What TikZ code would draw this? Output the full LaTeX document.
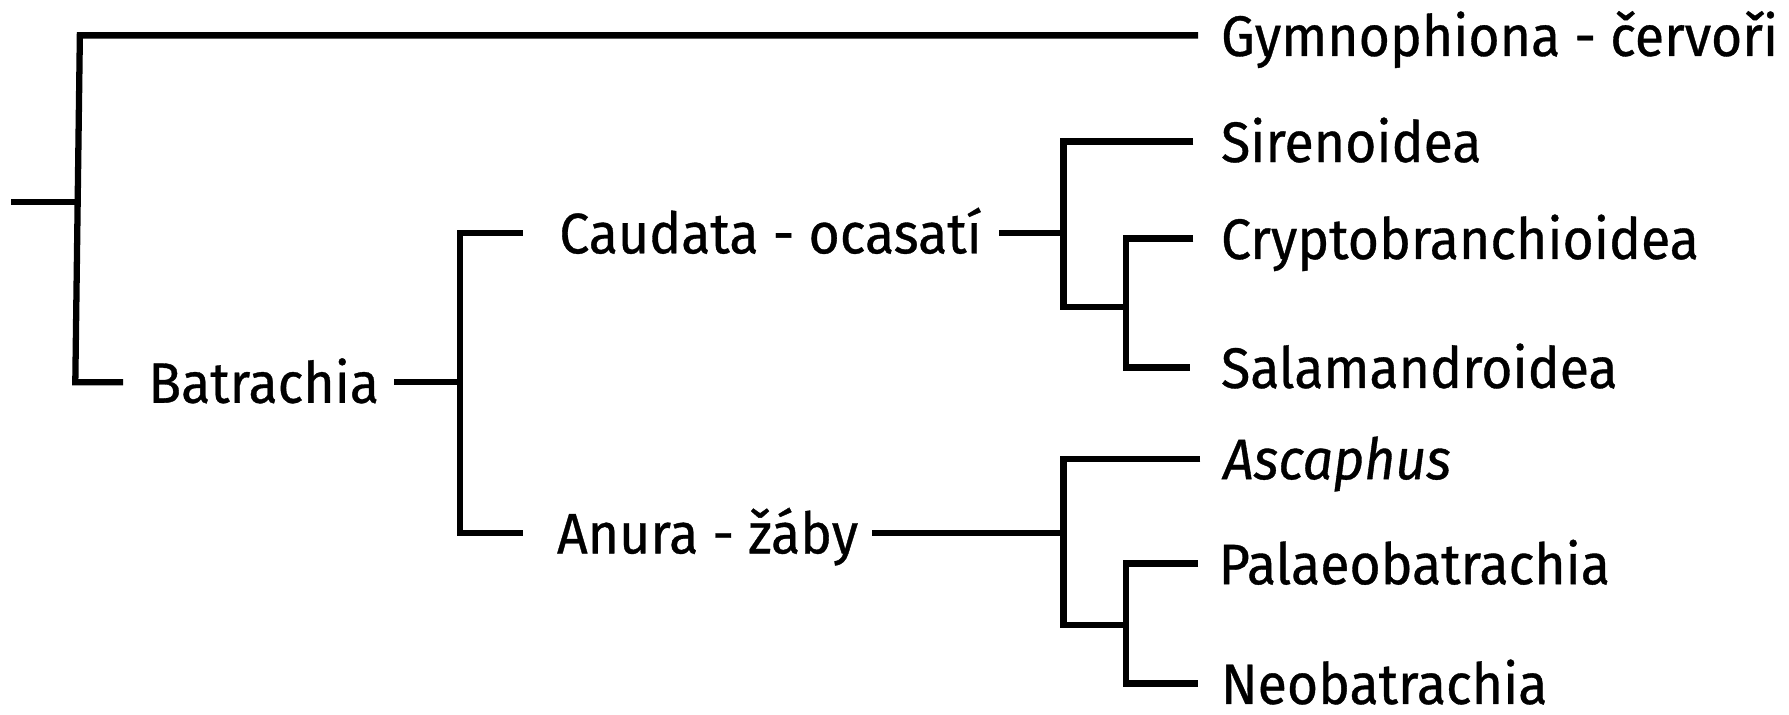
\documentclass[tikz,border=0pt]{standalone}
\usepackage{fontspec}
\newfontfamily\lblfont{Fira Sans}[FakeStretch=0.94,FakeBold=0.6]
\begin{document}
\begin{tikzpicture}[x=1pt,y=-1pt,
  br/.style={line width=5.5pt,black},
  lbl/.style={anchor=west,inner sep=0pt,font=\lblfont\fontsize{50}{50}\selectfont,text height=36pt,text depth=0pt}]
\useasboundingbox (0,0) rectangle (1568,626);
% labels
\node[lbl] (gym) at (1070,31) {Gymnophiona - červoři};
\node[lbl] (bat) at (130,335) {Batrachia};
\node[lbl] (cau) at (490,204) {Caudata - ocasatí};
\node[lbl] (anu) at (488,467) {Anura - žáby};
\node[lbl] (sir) at (1070,124) {Sirenoidea};
\node[lbl] (cry) at (1070,209) {Cryptobranchioidea};
\node[lbl] (sal) at (1070,322) {Salamandroidea};
\node[lbl] (asc) at (1072,402) {\itshape Ascaphus};
\node[lbl] (pal) at (1068,494) {Palaeobatrachia};
\node[lbl] (neo) at (1070,599) {Neobatrachia};
% junctions
\coordinate (rt) at (70,31);
\coordinate (rb) at (66,335);
\coordinate (root) at (10,177);
\coordinate (rmid) at (68,177);
\coordinate (bj) at (403,335);
\coordinate (bt) at (403,204);
\coordinate (bb) at (403,467);
\coordinate (cj) at (932,204);
\coordinate (cb) at (932,269);
\coordinate (ci) at (987,322);
\coordinate (aj) at (932,467);
\coordinate (ab) at (932,548);
\coordinate (ai) at (987,599);
% connectors
\draw[br] (root) -- (rmid);
\draw[br] ([xshift=-20pt]gym.west) -- (rt) -- (rb) -- ([xshift=-22pt]bat.west);
\draw[br] ([xshift=13pt]bat.east) -- (bj);
\draw[br] ([xshift=-32pt]cau.west) -| (bb) -- ([xshift=-30pt]anu.west);
\draw[br] ([xshift=15pt]cau.east) -- (cj);
\draw[br] ([xshift=-24pt]sir.west) -| (cb) -- (cb -| ci);
\draw[br] ([xshift=-24pt]cry.west) -| (ci) -- ([xshift=-27pt]sal.west);
\draw[br] ([xshift=12pt]anu.east) -- (aj);
\draw[br] ([xshift=-20pt]asc.west) -| (ab) -- (ab -| ai);
\draw[br] ([xshift=-18pt]pal.west) -| (ai) -- ([xshift=-20pt]neo.west);
\end{tikzpicture}
\end{document}
